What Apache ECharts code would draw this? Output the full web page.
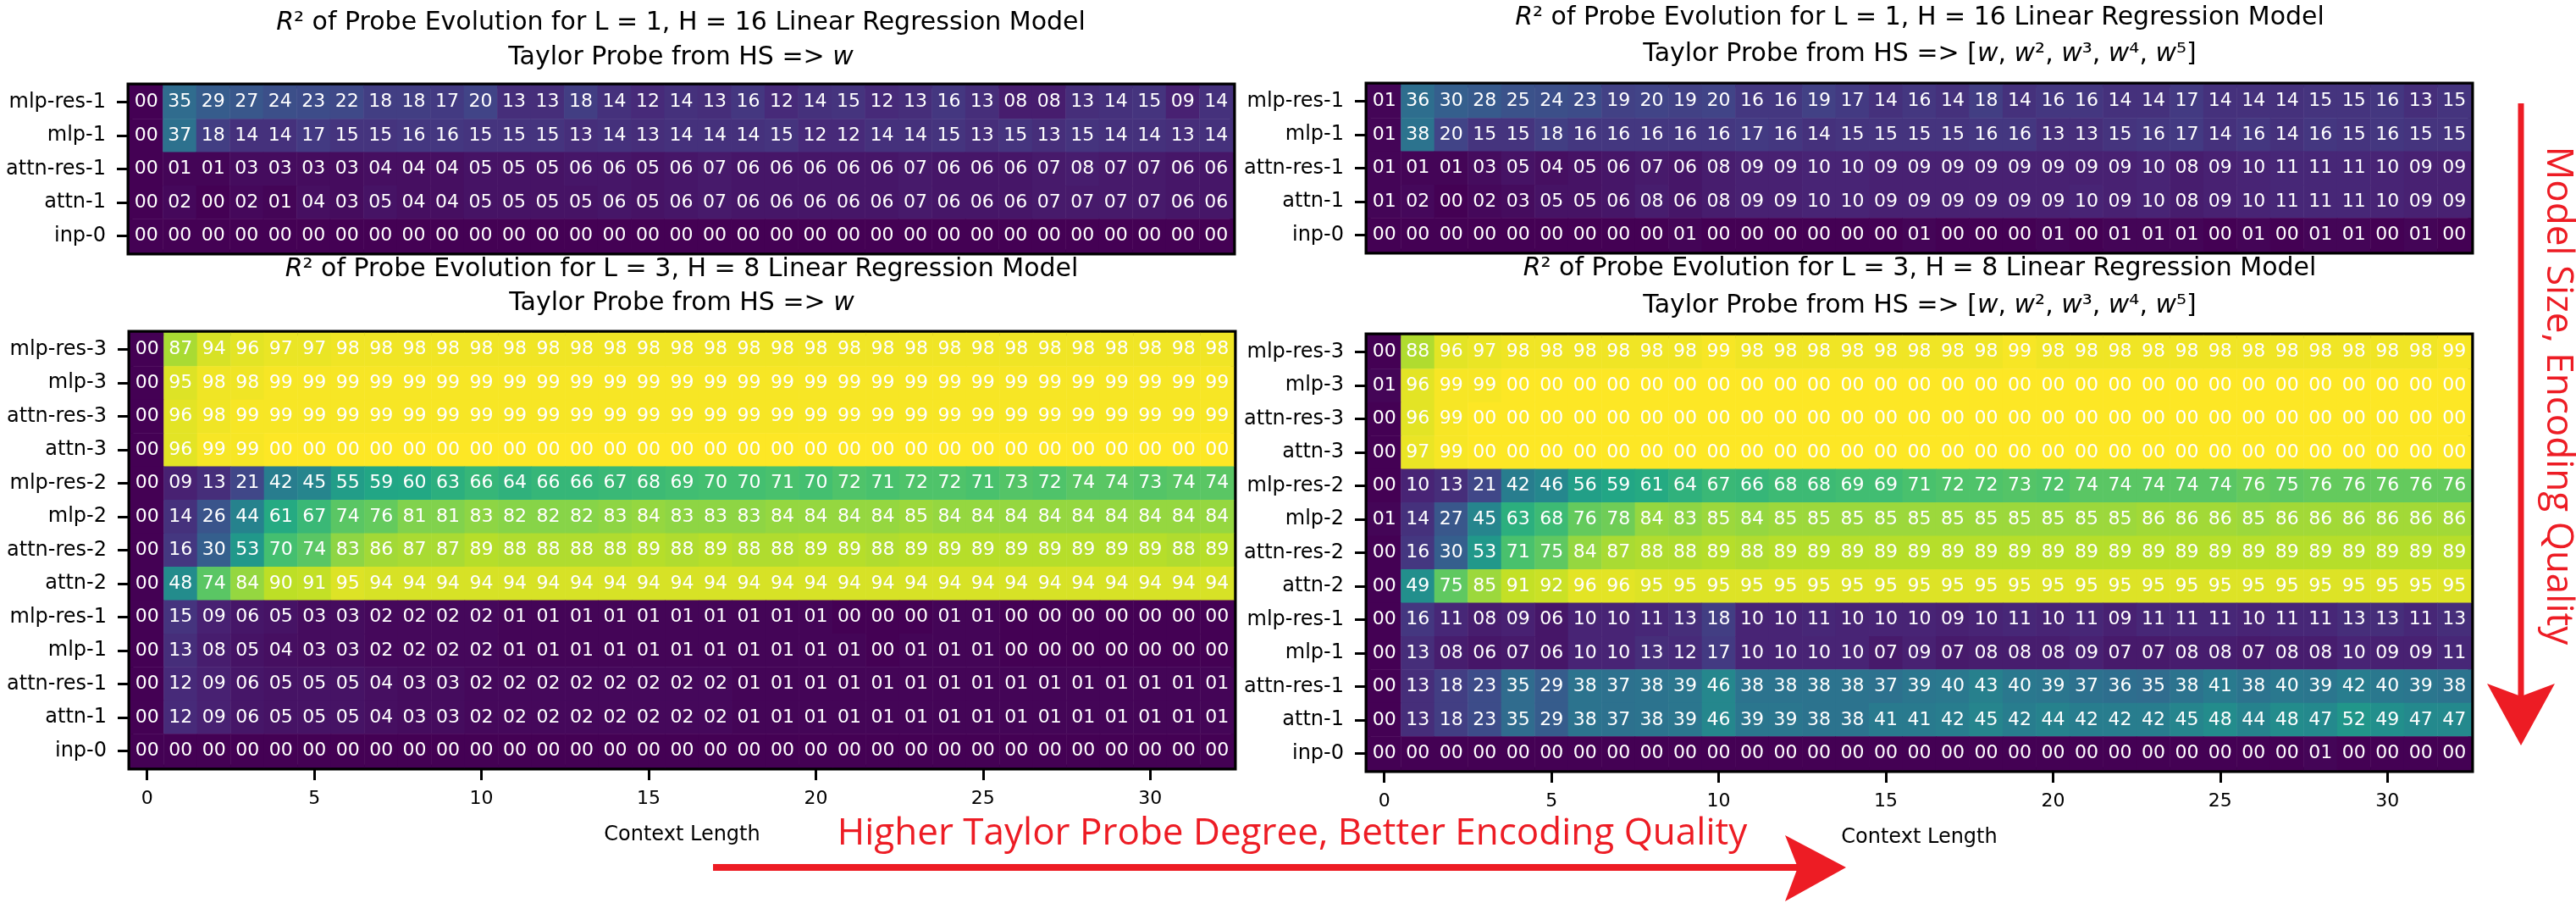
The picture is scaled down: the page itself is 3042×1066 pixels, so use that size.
<!DOCTYPE html>
<html lang="en">
<head>
    <meta charset="UTF-8">
    <title>Probe Evolution Heatmaps</title>
    <style>
        html, body { margin: 0; padding: 0; background: #fff; }
    </style>
</head>
<script src="https://cdn.jsdelivr.net/npm/echarts@6/dist/echarts.min.js"></script>
<body>
<div id="main" style="width: 3042px;height:1066px;"></div>
</body>
<script>
    // context length categories (x) and layer names (y)
    var contextLen = [0, 1, 2, 3, 4, 5, 6, 7, 8, 9, 10, 11, 12, 13, 14, 15, 16, 17, 18, 19, 20, 21, 22, 23, 24, 25, 26, 27, 28, 29, 30, 31, 32];
    var layersL1 = ['mlp-res-1', 'mlp-1', 'attn-res-1', 'attn-1', 'inp-0'];
    var layersL3 = ['mlp-res-3', 'mlp-3', 'attn-res-3', 'attn-3', 'mlp-res-2', 'mlp-2', 'attn-res-2', 'attn-2',
        'mlp-res-1', 'mlp-1', 'attn-res-1', 'attn-1', 'inp-0'];

    // R^2 x 100, one row per layer (a value of 100 is shown as "00")
    var l1Linear = [
        [0, 35, 29, 27, 24, 23, 22, 18, 18, 17, 20, 13, 13, 18, 14, 12, 14, 13, 16, 12, 14, 15, 12, 13, 16, 13, 8, 8, 13, 14, 15, 9, 14],
        [0, 37, 18, 14, 14, 17, 15, 15, 16, 16, 15, 15, 15, 13, 14, 13, 14, 14, 14, 15, 12, 12, 14, 14, 15, 13, 15, 13, 15, 14, 14, 13, 14],
        [0, 1, 1, 3, 3, 3, 3, 4, 4, 4, 5, 5, 5, 6, 6, 5, 6, 7, 6, 6, 6, 6, 6, 7, 6, 6, 6, 7, 8, 7, 7, 6, 6],
        [0, 2, 0, 2, 1, 4, 3, 5, 4, 4, 5, 5, 5, 5, 6, 5, 6, 7, 6, 6, 6, 6, 6, 7, 6, 6, 6, 7, 7, 7, 7, 6, 6],
        [0, 0, 0, 0, 0, 0, 0, 0, 0, 0, 0, 0, 0, 0, 0, 0, 0, 0, 0, 0, 0, 0, 0, 0, 0, 0, 0, 0, 0, 0, 0, 0, 0]
    ];
    var l1Poly = [
        [1, 36, 30, 28, 25, 24, 23, 19, 20, 19, 20, 16, 16, 19, 17, 14, 16, 14, 18, 14, 16, 16, 14, 14, 17, 14, 14, 14, 15, 15, 16, 13, 15],
        [1, 38, 20, 15, 15, 18, 16, 16, 16, 16, 16, 17, 16, 14, 15, 15, 15, 15, 16, 16, 13, 13, 15, 16, 17, 14, 16, 14, 16, 15, 16, 15, 15],
        [1, 1, 1, 3, 5, 4, 5, 6, 7, 6, 8, 9, 9, 10, 10, 9, 9, 9, 9, 9, 9, 9, 9, 10, 8, 9, 10, 11, 11, 11, 10, 9, 9],
        [1, 2, 0, 2, 3, 5, 5, 6, 8, 6, 8, 9, 9, 10, 10, 9, 9, 9, 9, 9, 9, 10, 9, 10, 8, 9, 10, 11, 11, 11, 10, 9, 9],
        [0, 0, 0, 0, 0, 0, 0, 0, 0, 1, 0, 0, 0, 0, 0, 0, 1, 0, 0, 0, 1, 0, 1, 1, 1, 0, 1, 0, 1, 1, 0, 1, 0]
    ];
    var l3Linear = [
        [0, 87, 94, 96, 97, 97, 98, 98, 98, 98, 98, 98, 98, 98, 98, 98, 98, 98, 98, 98, 98, 98, 98, 98, 98, 98, 98, 98, 98, 98, 98, 98, 98],
        [0, 95, 98, 98, 99, 99, 99, 99, 99, 99, 99, 99, 99, 99, 99, 99, 99, 99, 99, 99, 99, 99, 99, 99, 99, 99, 99, 99, 99, 99, 99, 99, 99],
        [0, 96, 98, 99, 99, 99, 99, 99, 99, 99, 99, 99, 99, 99, 99, 99, 99, 99, 99, 99, 99, 99, 99, 99, 99, 99, 99, 99, 99, 99, 99, 99, 99],
        [0, 96, 99, 99, 100, 100, 100, 100, 100, 100, 100, 100, 100, 100, 100, 100, 100, 100, 100, 100, 100, 100, 100, 100, 100, 100, 100, 100, 100, 100, 100, 100, 100],
        [0, 9, 13, 21, 42, 45, 55, 59, 60, 63, 66, 64, 66, 66, 67, 68, 69, 70, 70, 71, 70, 72, 71, 72, 72, 71, 73, 72, 74, 74, 73, 74, 74],
        [0, 14, 26, 44, 61, 67, 74, 76, 81, 81, 83, 82, 82, 82, 83, 84, 83, 83, 83, 84, 84, 84, 84, 85, 84, 84, 84, 84, 84, 84, 84, 84, 84],
        [0, 16, 30, 53, 70, 74, 83, 86, 87, 87, 89, 88, 88, 88, 88, 89, 88, 89, 88, 88, 89, 89, 88, 89, 89, 89, 89, 89, 89, 89, 89, 88, 89],
        [0, 48, 74, 84, 90, 91, 95, 94, 94, 94, 94, 94, 94, 94, 94, 94, 94, 94, 94, 94, 94, 94, 94, 94, 94, 94, 94, 94, 94, 94, 94, 94, 94],
        [0, 15, 9, 6, 5, 3, 3, 2, 2, 2, 2, 1, 1, 1, 1, 1, 1, 1, 1, 1, 1, 0, 0, 0, 1, 1, 0, 0, 0, 0, 0, 0, 0],
        [0, 13, 8, 5, 4, 3, 3, 2, 2, 2, 2, 1, 1, 1, 1, 1, 1, 1, 1, 1, 1, 1, 0, 1, 1, 1, 0, 0, 0, 0, 0, 0, 0],
        [0, 12, 9, 6, 5, 5, 5, 4, 3, 3, 2, 2, 2, 2, 2, 2, 2, 2, 1, 1, 1, 1, 1, 1, 1, 1, 1, 1, 1, 1, 1, 1, 1],
        [0, 12, 9, 6, 5, 5, 5, 4, 3, 3, 2, 2, 2, 2, 2, 2, 2, 2, 1, 1, 1, 1, 1, 1, 1, 1, 1, 1, 1, 1, 1, 1, 1],
        [0, 0, 0, 0, 0, 0, 0, 0, 0, 0, 0, 0, 0, 0, 0, 0, 0, 0, 0, 0, 0, 0, 0, 0, 0, 0, 0, 0, 0, 0, 0, 0, 0]
    ];
    var l3Poly = [
        [0, 88, 96, 97, 98, 98, 98, 98, 98, 98, 99, 98, 98, 98, 98, 98, 98, 98, 98, 99, 98, 98, 98, 98, 98, 98, 98, 98, 98, 98, 98, 98, 99],
        [1, 96, 99, 99, 100, 100, 100, 100, 100, 100, 100, 100, 100, 100, 100, 100, 100, 100, 100, 100, 100, 100, 100, 100, 100, 100, 100, 100, 100, 100, 100, 100, 100],
        [0, 96, 99, 100, 100, 100, 100, 100, 100, 100, 100, 100, 100, 100, 100, 100, 100, 100, 100, 100, 100, 100, 100, 100, 100, 100, 100, 100, 100, 100, 100, 100, 100],
        [0, 97, 99, 100, 100, 100, 100, 100, 100, 100, 100, 100, 100, 100, 100, 100, 100, 100, 100, 100, 100, 100, 100, 100, 100, 100, 100, 100, 100, 100, 100, 100, 100],
        [0, 10, 13, 21, 42, 46, 56, 59, 61, 64, 67, 66, 68, 68, 69, 69, 71, 72, 72, 73, 72, 74, 74, 74, 74, 74, 76, 75, 76, 76, 76, 76, 76],
        [1, 14, 27, 45, 63, 68, 76, 78, 84, 83, 85, 84, 85, 85, 85, 85, 85, 85, 85, 85, 85, 85, 85, 86, 86, 86, 85, 86, 86, 86, 86, 86, 86],
        [0, 16, 30, 53, 71, 75, 84, 87, 88, 88, 89, 88, 89, 89, 89, 89, 89, 89, 89, 89, 89, 89, 89, 89, 89, 89, 89, 89, 89, 89, 89, 89, 89],
        [0, 49, 75, 85, 91, 92, 96, 96, 95, 95, 95, 95, 95, 95, 95, 95, 95, 95, 95, 95, 95, 95, 95, 95, 95, 95, 95, 95, 95, 95, 95, 95, 95],
        [0, 16, 11, 8, 9, 6, 10, 10, 11, 13, 18, 10, 10, 11, 10, 10, 10, 9, 10, 11, 10, 11, 9, 11, 11, 11, 10, 11, 11, 13, 13, 11, 13],
        [0, 13, 8, 6, 7, 6, 10, 10, 13, 12, 17, 10, 10, 10, 10, 7, 9, 7, 8, 8, 8, 9, 7, 7, 8, 8, 7, 8, 8, 10, 9, 9, 11],
        [0, 13, 18, 23, 35, 29, 38, 37, 38, 39, 46, 38, 38, 38, 38, 37, 39, 40, 43, 40, 39, 37, 36, 35, 38, 41, 38, 40, 39, 42, 40, 39, 38],
        [0, 13, 18, 23, 35, 29, 38, 37, 38, 39, 46, 39, 39, 38, 38, 41, 41, 42, 45, 42, 44, 42, 42, 42, 45, 48, 44, 48, 47, 52, 49, 47, 47],
        [0, 0, 0, 0, 0, 0, 0, 0, 0, 0, 0, 0, 0, 0, 0, 0, 0, 0, 0, 0, 0, 0, 0, 0, 0, 0, 0, 0, 1, 0, 0, 0, 0]
    ];

    var viridis = ['#440154', '#482475', '#414487', '#355f8d', '#2a788e', '#21918c',
        '#22a884', '#44bf70', '#7ad151', '#bddf26', '#fde725'];
    var FONT = 'DejaVu Sans';
    var RED = '#ed1c24';

    function toCells(rows) {
        var out = [];
        rows.forEach(function (row, y) {
            row.forEach(function (v, x) { out.push([x, y, v]); });
        });
        return out;
    }

    // panel layout: grid boxes in px
    var panels = [
        {rows: l1Linear, layers: layersL1, left: 153, top: 101, height: 197, xShow: false},
        {rows: l1Poly, layers: layersL1, left: 1615, top: 100, height: 197, xShow: false},
        {rows: l3Linear, layers: layersL3, left: 154, top: 393, height: 513, xShow: true},
        {rows: l3Poly, layers: layersL3, left: 1615, top: 396, height: 513, xShow: true}
    ];
    var W = 1303;

    var grids = [], xAxes = [], yAxes = [], series = [];
    panels.forEach(function (p, i) {
        grids.push({
            left: p.left, top: p.top, width: W, height: p.height,
            show: true, borderColor: '#000', borderWidth: 7, backgroundColor: 'transparent'
        });
        xAxes.push({
            type: 'category', gridIndex: i, data: contextLen, show: p.xShow,
            axisLine: {show: false},
            axisTick: {
                show: true, alignWithLabel: true, length: 15,
                interval: function (idx) { return idx % 5 === 0; },
                lineStyle: {color: '#000', width: 3}
            },
            axisLabel: {
                interval: function (idx) { return idx % 5 === 0; },
                margin: 26, fontSize: 22, color: '#000', fontFamily: FONT
            },
            name: 'Context Length', nameLocation: 'middle', nameGap: 68,
            nameTextStyle: {fontSize: 24, color: '#000', fontFamily: FONT},
            splitLine: {show: false}
        });
        yAxes.push({
            type: 'category', gridIndex: i, data: p.layers, inverse: true,
            axisLine: {show: false},
            axisTick: {show: true, alignWithLabel: true, length: 15, lineStyle: {color: '#000', width: 3}},
            axisLabel: {margin: 28, fontSize: 24, color: '#000', fontFamily: FONT},
            splitLine: {show: false}
        });
        series.push({
            type: 'heatmap', xAxisIndex: i, yAxisIndex: i,
            data: toCells(p.rows),
            label: {
                show: true, color: '#fff', fontSize: 22, fontFamily: FONT,
                formatter: function (d) {
                    var v = d.value[2] % 100;
                    return (v < 10 ? '0' : '') + v;
                }
            },
            itemStyle: {borderWidth: 0},
            emphasis: {disabled: true}
        });
    });

    var italic = {fontStyle: 'italic', fontSize: 30, fontFamily: FONT, fill: '#000'};
    function titleText(x, y, text) {
        return {
            type: 'text', x: x, y: y, z: 10,
            style: {
                text: text, fontSize: 30, fontFamily: FONT, fill: '#000',
                align: 'center', verticalAlign: 'middle', textAlign: 'center', textVerticalAlign: 'middle',
                rich: {it: italic}
            }
        };
    }
    var polyLabel = 'Taylor Probe from HS => [{it|w}, {it|w}\u00b2, {it|w}\u00b3, {it|w}\u2074, {it|w}\u2075]';

    var graphics = [
        titleText(804, 27, '{it|R}\u00b2 of Probe Evolution for L = 1, H = 16 Linear Regression Model'),
        titleText(804, 68, 'Taylor Probe from HS => {it|w}'),
        titleText(2267, 21, '{it|R}\u00b2 of Probe Evolution for L = 1, H = 16 Linear Regression Model'),
        titleText(2267, 64, polyLabel),
        titleText(805, 318, '{it|R}\u00b2 of Probe Evolution for L = 3, H = 8 Linear Regression Model'),
        titleText(805, 358, 'Taylor Probe from HS => {it|w}'),
        titleText(2267, 317, '{it|R}\u00b2 of Probe Evolution for L = 3, H = 8 Linear Regression Model'),
        titleText(2267, 361, polyLabel),
        // horizontal red arrow
        {
            type: 'line', z: 10,
            shape: {x1: 842, y1: 1024, x2: 2125, y2: 1024},
            style: {stroke: RED, lineWidth: 8}
        },
        {
            type: 'polygon', z: 10,
            shape: {points: [[2180, 1024], [2108, 986], [2123, 1024], [2108, 1064]]},
            style: {fill: RED}
        },
        {
            type: 'text', x: 1526, y: 984, z: 10,
            style: {
                text: 'Higher Taylor Probe Degree, Better Encoding Quality',
                fontSize: 44, fontFamily: 'Open Sans', fill: RED,
                align: 'center', verticalAlign: 'middle', textAlign: 'center', textVerticalAlign: 'middle'
            }
        },
        // vertical red arrow
        {
            type: 'line', z: 10,
            shape: {x1: 2977, y1: 122, x2: 2977, y2: 825},
            style: {stroke: RED, lineWidth: 7}
        },
        {
            type: 'polygon', z: 10,
            shape: {points: [[2977, 880], [2937, 807], [2977, 822], [3017, 807]]},
            style: {fill: RED}
        },
        {
            type: 'text', x: 3021, y: 467, z: 10, rotation: -Math.PI / 2,
            style: {
                text: 'Model Size, Encoding Quality',
                fontSize: 44, fontFamily: 'Open Sans', fill: RED,
                align: 'center', verticalAlign: 'middle', textAlign: 'center', textVerticalAlign: 'middle'
            }
        }
    ];

    var myChart = echarts.init(document.getElementById('main'));
    var option = {
        backgroundColor: '#fff',
        animation: false,
        grid: grids,
        xAxis: xAxes,
        yAxis: yAxes,
        visualMap: {
            show: false, min: 0, max: 100, calculable: false,
            inRange: {color: viridis}
        },
        series: series,
        graphic: graphics
    };
    myChart.setOption(option);
</script>
</html>
